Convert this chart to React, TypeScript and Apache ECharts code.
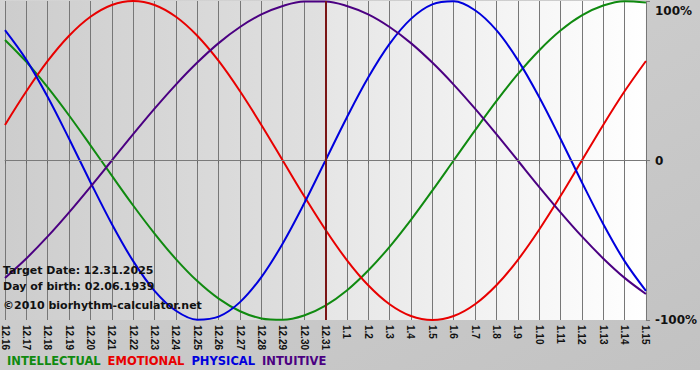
import React, { useEffect, useRef } from "react";
import * as echarts from "echarts";

const dates = [
  "12.16","12.17","12.18","12.19","12.20","12.21","12.22","12.23","12.24","12.25","12.26","12.27","12.28","12.29","12.30","12.31",
  "1.1","1.2","1.3","1.4","1.5","1.6","1.7","1.8","1.9","1.10","1.11","1.12","1.13","1.14","1.15",
];
const targetDate = "12.31";

const intellectual = [
  75.6, 61.8, 45.8, 28.2, 9.5, -9.5, -28.2, -45.8, -61.8, -75.6, -86.6, -94.5, -99.0, -99.9, -97.2, -91.0,
  -81.5, -69.0, -54.1, -37.2, -18.9, 0, 18.9, 37.2, 54.1, 69.0, 81.5, 91.0, 97.2, 99.9, 99.0,
];
const emotional = [
  22.3, 43.4, 62.4, 78.2, 90.1, 97.5, 100, 97.5, 90.1, 78.2, 62.4, 43.4, 22.3, 0, -22.3, -43.4,
  -62.4, -78.2, -90.1, -97.5, -100, -97.5, -90.1, -78.2, -62.4, -43.4, -22.3, 0, 22.3, 43.4, 62.4,
];
const physical = [
  81.7, 63.1, 39.8, 13.6, -13.6, -39.8, -63.1, -81.7, -94.2, -99.8, -97.9, -88.8, -73.1, -52.0, -27.0, 0,
  27.0, 52.0, 73.1, 88.8, 97.9, 99.8, 94.2, 81.7, 63.1, 39.8, 13.6, -13.6, -39.8, -63.1, -81.7,
];
const intuitive = [
  -73.6, -61.4, -47.6, -32.5, -16.5, 0, 16.5, 32.5, 47.6, 61.4, 73.6, 83.7, 91.6, 96.9, 99.7, 99.7,
  96.9, 91.6, 83.7, 73.6, 61.4, 47.6, 32.5, 16.5, 0, -16.5, -32.5, -47.6, -61.4, -73.6, -83.7,
];

const seriesNames = ["INTELLECTUAL", "EMOTIONAL", "PHYSICAL", "INTUITIVE"];
const seriesColors = ["#108a10", "#e80000", "#0000dd", "#4b0082"];
const yTicks = [-100, 0, 100];
const infoLines = ["Target Date: 12.31.2025", "Day of birth: 02.06.1939", "\u00a92010 biorhythm-calculator.net"];

const FONT = "'DejaVu Sans', Verdana, sans-serif";
const SMALL_FONT = "'Liberation Sans', Arial, sans-serif";

export default function App() {
  const ref = useRef<HTMLDivElement>(null);
  useEffect(() => {
    document.body.style.margin = "0";
    document.body.style.background = "#ffffff";
    const chart = echarts.init(ref.current!, null, { renderer: "svg" });
    const dataSets = [intellectual, emotional, physical, intuitive];
    const series: any[] = dataSets.map((d, i) => ({
      name: seriesNames[i],
      type: "line",
      data: d,
      smooth: 0.35,
      symbol: "none",
      z: 3,
      lineStyle: { color: seriesColors[i], width: 2 },
      itemStyle: { color: seriesColors[i] },
    }));
    series.push({
      name: "bg",
      type: "line",
      data: [],
      z: 1,
      markArea: {
        silent: true,
        z: -1,
        data: [
          [
            {
              xAxis: dates[0],
              itemStyle: {
                color: new echarts.graphic.LinearGradient(0, 0, 1, 0, [
                  { offset: 0, color: "#cdcdcd" },
                  { offset: 1, color: "#e0e0e0" },
                ]),
              },
            },
            { xAxis: targetDate },
          ],
          [
            {
              xAxis: targetDate,
              itemStyle: {
                color: new echarts.graphic.LinearGradient(0, 0, 1, 0, [
                  { offset: 0, color: "#e6e6e6" },
                  { offset: 1, color: "#ffffff" },
                ]),
              },
            },
            { xAxis: dates[dates.length - 1] },
          ],
        ],
      },
      markLine: {
        silent: true,
        symbol: "none",
        label: { show: false },
        data: [
          { yAxis: 0, lineStyle: { color: "#7a7a7a", width: 1, type: "solid" } },
          { xAxis: targetDate, lineStyle: { color: "#7a1515", width: 2, type: "solid" } },
        ],
      },
    });

    chart.setOption({
      animation: false,
      backgroundColor: new echarts.graphic.LinearGradient(0, 0, 1, 1, [
        { offset: 0, color: "#d4d4d4" },
        { offset: 1, color: "#c2c2c2" },
      ]),
      grid: { left: 2, right: 50, top: 1, bottom: 50, containLabel: false },
      legend: {
        left: 2,
        top: 355,
        padding: 0,
        icon: "rect",
        itemWidth: 0,
        itemHeight: 0,
        itemGap: 2,
        selectedMode: false,
        data: seriesNames.map((n, i) => ({
          name: n,
          textStyle: { color: seriesColors[i], fontWeight: "bold", fontSize: 11.5, fontFamily: FONT },
        })),
      },
      xAxis: {
        type: "category",
        data: dates,
        boundaryGap: false,
        axisLine: { show: true, lineStyle: { color: "#888888", width: 1 } },
        axisTick: { show: true, length: 3, interval: 0, lineStyle: { color: "#666666" } },
        axisLabel: {
          interval: 0,
          rotate: -90,
          margin: 5,
          fontSize: 10,
          fontWeight: "bold",
          color: "#111111",
          fontFamily: SMALL_FONT,
        },
        splitLine: { show: true, interval: 0, lineStyle: { color: "#777777", width: 1 } },
      },
      yAxis: {
        type: "value",
        position: "right",
        min: yTicks[0],
        max: yTicks[2],
        interval: 100,
        axisLine: { show: false },
        axisTick: { show: true, length: 4, lineStyle: { color: "#7a7a7a" } },
        splitLine: { show: false },
        axisLabel: {
          margin: 9,
          fontSize: 12,
          fontWeight: "bold",
          color: "#111111",
          fontFamily: FONT,
          padding: [4, 0, 0, 0],
          verticalAlignMaxLabel: "top",
          formatter: (v: number) => (v === 0 ? "0" : v + "%"),
        },
      },
      graphic: infoLines.map((t, i) => ({
        type: "text",
        left: 3,
        top: [265, 281, 300][i],
        z: 10,
        style: { text: t, fill: "#111111", font: `bold 11px ${FONT}` },
      })),
      series,
    });
    return () => chart.dispose();
  }, []);
  return <div ref={ref} style={{ width: 700, height: 370 }} />;
}
